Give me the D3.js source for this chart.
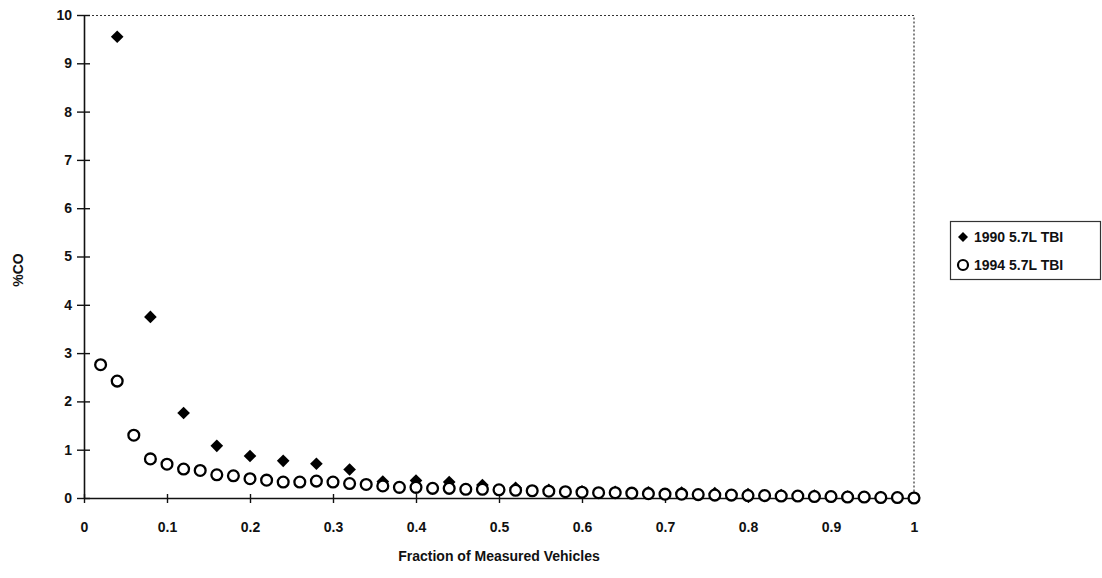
<!DOCTYPE html>
<html>
<head>
<meta charset="utf-8">
<script src="https://cdn.jsdelivr.net/npm/d3@7"></script>
<style>
  body { margin: 0; background: #fff; }
  text { font-family: "Liberation Sans", Arial, sans-serif; font-weight: bold; fill: #111; }
</style>
</head>
<body>
<div id="chart"></div>
<script>
// 1990 5.7L TBI (filled diamonds)
const x1990 = [0.04, 0.08, 0.12, 0.16, 0.20, 0.24, 0.28, 0.32, 0.36, 0.40, 0.44, 0.48, 0.52,
               0.56, 0.60, 0.64, 0.68, 0.72, 0.76, 0.80, 0.84, 0.88, 0.92, 0.96, 1.00];
const co1990 = [9.55, 3.75, 1.76, 1.08, 0.87, 0.77, 0.71, 0.59, 0.34, 0.36, 0.33, 0.27, 0.21,
                0.17, 0.14, 0.13, 0.12, 0.11, 0.10, 0.08, 0.06, 0.05, 0.03, 0.02, 0.01];

// 1994 5.7L TBI (open circles)
const x1994 = [0.02, 0.04, 0.06, 0.08, 0.10, 0.12, 0.14, 0.16, 0.18, 0.20,
               0.22, 0.24, 0.26, 0.28, 0.30, 0.32, 0.34, 0.36, 0.38, 0.40,
               0.42, 0.44, 0.46, 0.48, 0.50, 0.52, 0.54, 0.56, 0.58, 0.60,
               0.62, 0.64, 0.66, 0.68, 0.70, 0.72, 0.74, 0.76, 0.78, 0.80,
               0.82, 0.84, 0.86, 0.88, 0.90, 0.92, 0.94, 0.96, 0.98, 1.00];
const co1994 = [2.76, 2.42, 1.30, 0.81, 0.70, 0.60, 0.57, 0.48, 0.46, 0.40,
                0.37, 0.33, 0.33, 0.35, 0.33, 0.30, 0.28, 0.25, 0.22, 0.22,
                0.20, 0.20, 0.18, 0.18, 0.17, 0.16, 0.15, 0.14, 0.13, 0.12,
                0.11, 0.11, 0.10, 0.09, 0.08, 0.08, 0.07, 0.06, 0.06, 0.05,
                0.05, 0.04, 0.04, 0.03, 0.03, 0.02, 0.02, 0.01, 0.01, 0.00];

const xTicks = [0, 0.1, 0.2, 0.3, 0.4, 0.5, 0.6, 0.7, 0.8, 0.9, 1];
const yTicks = [0, 1, 2, 3, 4, 5, 6, 7, 8, 9, 10];
const seriesNames = ["1990 5.7L TBI", "1994 5.7L TBI"];

const width = 1102, height = 578;
const margin = {top: 15, right: 188, bottom: 80, left: 84};
const plotW = width - margin.left - margin.right;
const plotH = height - margin.top - margin.bottom;

let svg = d3.select("#chart")
    .append("svg")
    .attr("width", width)
    .attr("height", height);

let g = svg.append("g")
    .attr("transform", `translate(${margin.left}, ${margin.top})`);

let x = d3.scaleLinear().domain([0, 1]).range([0, plotW]);
let y = d3.scaleLinear().domain([0, 10]).range([plotH, 0]);

// dotted top and right frame
g.append("path")
    .attr("d", `M0,0.5H${plotW}V${plotH}`)
    .attr("fill", "none")
    .attr("stroke", "#333")
    .attr("stroke-width", 1.2)
    .attr("stroke-dasharray", "2,2");

// y axis
let yAxis = g.append("g")
    .call(d3.axisLeft(y).tickValues(yTicks).tickSize(0).tickPadding(12).tickFormat(d3.format("d")));
yAxis.select(".domain").attr("stroke", "#111").attr("stroke-width", 1.6);
yAxis.selectAll(".tick text").style("font-size", "14px");
yAxis.selectAll(".tick").append("line")
    .attr("x1", -7).attr("x2", 6)
    .attr("stroke", "#111").attr("stroke-width", 1.4);

// x axis
let xAxis = g.append("g")
    .attr("transform", `translate(0, ${plotH})`)
    .call(d3.axisBottom(x).tickValues(xTicks).tickSize(0).tickPadding(24).tickFormat(d => d === 0 || d === 1 ? d : d.toFixed(1)));
xAxis.select(".domain").attr("stroke", "#111").attr("stroke-width", 1.6);
xAxis.selectAll(".tick text").style("font-size", "14px");
xAxis.selectAll(".tick").append("line")
    .attr("y1", -4).attr("y2", 5)
    .attr("stroke", "#111").attr("stroke-width", 1.4);

// 1990 diamonds
g.append("g").selectAll("path")
    .data(x1990.map((v, i) => ({x: v, y: co1990[i]})))
    .enter()
    .append("path")
    .attr("d", d3.symbol().type(d3.symbolSquare).size(80))
    .attr("transform", d => `translate(${x(d.x)}, ${y(d.y)}) rotate(45)`)
    .attr("fill", "#000");

// 1994 circles
g.append("g").selectAll("circle")
    .data(x1994.map((v, i) => ({x: v, y: co1994[i]})))
    .enter()
    .append("circle")
    .attr("cx", d => x(d.x))
    .attr("cy", d => y(d.y))
    .attr("r", 5.4)
    .attr("fill", "#fff")
    .attr("stroke", "#000")
    .attr("stroke-width", 2.3);

// axis titles
svg.append("text")
    .attr("transform", `translate(${margin.left + plotW / 2}, 561)`)
    .style("text-anchor", "middle")
    .style("font-size", "14px")
    .text("Fraction of Measured Vehicles");

svg.append("text")
    .attr("transform", `translate(23, 270) rotate(-90)`)
    .style("text-anchor", "middle")
    .style("font-size", "14px")
    .text("%CO");

// legend
let legend = svg.append("g");
legend.append("rect")
    .attr("x", 950.5).attr("y", 221.5)
    .attr("width", 150).attr("height", 58)
    .attr("fill", "#fff")
    .attr("stroke", "#333")
    .attr("stroke-width", 1.2);

legend.append("path")
    .attr("d", d3.symbol().type(d3.symbolSquare).size(50))
    .attr("transform", "translate(963, 237) rotate(45)")
    .attr("fill", "#000");
legend.append("circle")
    .attr("cx", 963).attr("cy", 265).attr("r", 5)
    .attr("fill", "#fff").attr("stroke", "#000").attr("stroke-width", 2.2);

legend.selectAll("text.lab")
    .data(seriesNames)
    .enter()
    .append("text")
    .attr("class", "lab")
    .attr("x", 974)
    .attr("y", (d, i) => 242 + i * 28)
    .style("font-size", "14px")
    .text(d => d);
</script>
</body>
</html>
